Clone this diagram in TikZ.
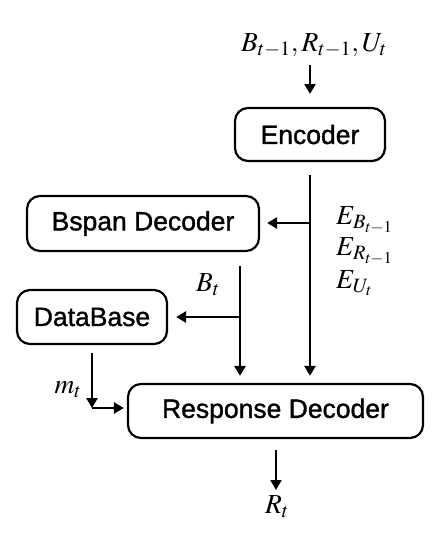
\documentclass[tikz,border=0pt]{standalone}
\usepackage{mathptmx}
\usepackage{fontspec}
\newfontfamily\boxfont{Liberation Sans}[FakeBold=1.3]
\usetikzlibrary{arrows.meta}
\tikzset{
  blk/.style={draw, line width=2.2pt, rounded corners=13pt, font=\boxfont\fontsize{26.5}{30}\selectfont, inner sep=0pt},
  lbl/.style={font=\fontsize{27.5}{31}\selectfont, inner sep=0pt},
  conn/.style={line width=2.8pt, -{Triangle[length=10pt,width=11pt]}}
}
\begin{document}
\begin{tikzpicture}[x=1pt,y=-1pt]
\useasboundingbox (0,0) rectangle (443,536);
\node[blk, minimum width=150pt, minimum height=53pt] (enc) at (310,134.5) {Encoder};
\node[blk, minimum width=232pt, minimum height=55pt] (bsp) at (143,223.5) {Bspan Decoder};
\node[blk, minimum width=150pt, minimum height=54pt] (db) at (92,317) {DataBase};
\node[blk, minimum width=295pt, minimum height=54pt] (rsp) at (275.5,411) {Response Decoder};

\node[lbl] (in) at (314,45) {$B_{t-1},R_{t-1},U_t$};
\node[lbl, anchor=west] (eb) at (336,220) {$E_{B_{t-1}}$};
\node[lbl, anchor=west] (er) at (336,251) {$E_{R_{t-1}}$};
\node[lbl, anchor=west] (eu) at (336,283) {$E_{U_t}$};
\node[lbl] (bt) at (208,285) {$B_t$};
\node[lbl] (mt) at (68,390) {$m_t$};
\node[lbl] (rt) at (277,507) {$R_t$};

\coordinate (j1) at (310,223);
\coordinate (s2) at (240,266);
\coordinate (j2) at (240,317);
\coordinate (d1) at (92,353);
\coordinate (d2) at (92,408);
\coordinate (o1) at (276,450);
\coordinate (o2) at (276,490);
\coordinate (i1) at (310,65);
\coordinate (i2) at (310,94);

\draw[conn] (i1) -- (i2);
\draw[conn, shorten <=13pt, shorten >=7pt] (enc.south) -- (enc.south |- rsp.north);
\draw[conn, shorten >=7pt] (j1) -- (bsp.east |- j1);
\draw[conn, shorten >=7pt] (s2) -- (s2 |- rsp.north);
\draw[conn, shorten >=8pt] (j2) -- (db.east |- j2);
\draw[conn] (d1) -- (d2);
\draw[conn, shorten >=3pt] (d2) -- (rsp.west |- d2);
\draw[conn] (o1) -- (o2);
\end{tikzpicture}
\end{document}
